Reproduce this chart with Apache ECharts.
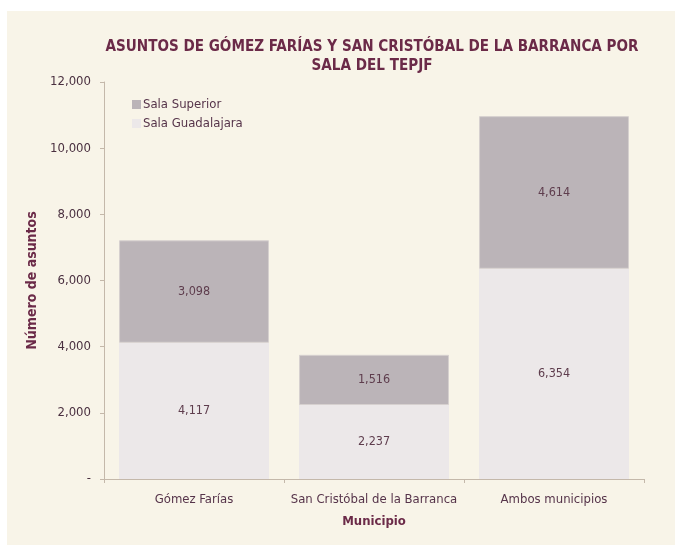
<!DOCTYPE html>
<html>
<head>
<meta charset="utf-8">
<script src="https://cdn.jsdelivr.net/npm/echarts@6/dist/echarts.min.js"></script>
<style>
  html, body { margin: 0; padding: 0; background: #ffffff; }
  #main { width: 675px; height: 545px; }
</style>
</head>
<body>
<div id="main"></div>
<script>
// datos
var municipios = ['Gómez Farías', 'San Cristóbal de la Barranca', 'Ambos municipios'];
var salaGuadalajara = [4117, 2237, 6354];
var salaSuperior = [3098, 1516, 4614];
var yTicks = [0, 2000, 4000, 6000, 8000, 10000, 12000];

var fontFam = '"DejaVu Sans Condensed", "DejaVu Sans", sans-serif';
var maroon = '#6b2a48';
var txt = '#56344a';

function fmt(v) {
	if (v === 0) return '-';
	return v.toLocaleString('en-US');
}

var myChart = echarts.init(document.getElementById('main'));

var option = {
	backgroundColor: '#ffffff',
	textStyle: { fontFamily: fontFam },
	graphic: [{
		type: 'rect',
		z: -10,
		shape: { x: 7, y: 11, width: 668, height: 534 },
		style: { fill: '#f8f4e8' }
	}],
	title: {
		text: 'ASUNTOS DE GÓMEZ FARÍAS Y SAN CRISTÓBAL DE LA BARRANCA POR\nSALA DEL TEPJF',
		left: 367,
		top: 33,
		textAlign: 'center',
		textStyle: {
			color: maroon,
			fontFamily: fontFam,
			fontWeight: 'bold',
			fontSize: 15.1,
			lineHeight: 19
		}
	},
	legend: {
		orient: 'vertical',
		left: 127,
		top: 93,
		itemWidth: 9,
		itemHeight: 9,
		itemGap: 6,
		icon: 'rect',
		data: ['Sala Superior', 'Sala Guadalajara'],
		itemStyle: { borderWidth: 0 },
		textStyle: { color: txt, fontSize: 13, fontFamily: fontFam, padding: [0, 0, 0, -3] }
	},
	grid: {
		left: 104,
		right: 31,
		top: 82,
		bottom: 66,
		containLabel: false
	},
	xAxis: {
		type: 'category',
		data: municipios,
		name: 'Municipio',
		nameLocation: 'middle',
		nameGap: 36,
		nameTextStyle: { color: maroon, fontWeight: 'bold', fontSize: 13, fontFamily: fontFam },
		axisLine: { lineStyle: { color: '#c4b8aa' } },
		axisTick: { show: true, interval: 0, length: 4, lineStyle: { color: '#c4b8aa' } },
		axisLabel: { color: txt, fontSize: 13, margin: 14, interval: 0, fontFamily: fontFam }
	},
	yAxis: {
		type: 'value',
		min: 0,
		max: 12000,
		interval: 2000,
		name: 'Número de asuntos',
		nameLocation: 'middle',
		nameGap: 64,
		nameRotate: 90,
		nameTextStyle: { color: maroon, fontWeight: 'bold', fontSize: 14, fontFamily: fontFam },
		axisLine: { show: true, lineStyle: { color: '#c4b8aa' } },
		axisTick: { show: true, length: 4, inside: false, lineStyle: { color: '#c4b8aa' } },
		splitLine: { show: false },
		axisLabel: {
			color: '#4a3040',
			fontSize: 13,
			margin: 13,
			fontFamily: fontFam,
			formatter: function(v) { return yTicks.indexOf(v) >= 0 ? fmt(v) : ''; }
		}
	},
	series: [{
		name: 'Sala Guadalajara',
		type: 'bar',
		stack: 'total',
		data: salaGuadalajara,
		barCategoryGap: '16.7%',
		itemStyle: { color: '#ece8e9' },
		label: {
			show: true,
			position: 'inside',
			color: '#5e3d4d',
			fontSize: 12.5,
			fontFamily: fontFam,
			formatter: function(p) { return fmt(p.value); }
		}
	}, {
		name: 'Sala Superior',
		type: 'bar',
		stack: 'total',
		data: salaSuperior,
		barCategoryGap: '16.7%',
		itemStyle: { color: '#bbb4b8', borderColor: '#d6d0cf', borderWidth: 1 },
		label: {
			show: true,
			position: 'inside',
			color: '#5e3d4d',
			fontSize: 12.5,
			fontFamily: fontFam,
			formatter: function(p) { return fmt(p.value); }
		}
	}]
};
myChart.setOption(option);
</script>
</body>
</html>
